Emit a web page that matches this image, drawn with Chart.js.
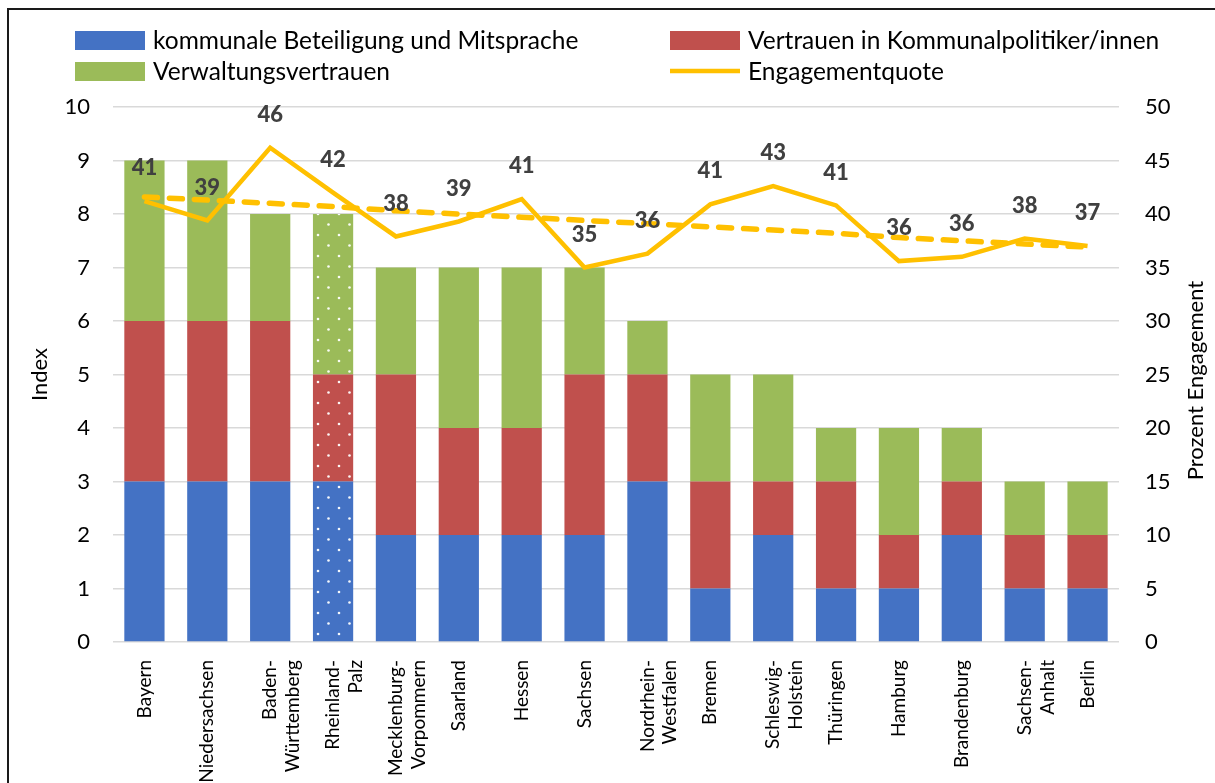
<!DOCTYPE html>
<html lang="de">
<head>
<meta charset="utf-8">
<title>Index und Engagementquote nach Bundesland</title>
<script src="https://cdn.jsdelivr.net/npm/chart.js@4/dist/chart.umd.min.js"></script>
<style>
  html, body { margin: 0; padding: 0; background: #fff; }
  #wrap { position: relative; width: 1215px; height: 783px; overflow: hidden; }
  #frame { position: absolute; left: 7px; top: 8px; width: 1400px; height: 1000px;
           border: 2px solid #1a1a1a; box-sizing: border-box; }
  #c { position: absolute; left: 0; top: 0; }
</style>
</head>
<body>
<div id="wrap">
  <div id="frame"></div>
  <canvas id="c" width="1215" height="783"></canvas>
</div>
<script>
// Bundesländer (mehrzeilige Beschriftung als Arrays)
const laender = [
  ['Bayern'], ['Niedersachsen'], ['Baden-', 'Württemberg'], ['Rheinland-', 'Palz'],
  ['Mecklenburg-', 'Vorpommern'], ['Saarland'], ['Hessen'], ['Sachsen'],
  ['Nordrhein-', 'Westfalen'], ['Bremen'], ['Schleswig-', 'Holstein'], ['Thüringen'],
  ['Hamburg'], ['Brandenburg'], ['Sachsen-', 'Anhalt'], ['Berlin']
];

// Index-Bestandteile (linke Achse)
const beteiligung      = [3, 3, 3, 3, 2, 2, 2, 2, 3, 1, 2, 1, 1, 2, 1, 1];
const vertrauenPolitik = [3, 3, 3, 2, 3, 2, 2, 3, 2, 2, 1, 2, 1, 1, 1, 1];
const verwaltung       = [3, 3, 2, 3, 2, 3, 3, 2, 1, 2, 2, 1, 2, 1, 1, 1];

// Engagementquote in Prozent (rechte Achse) und ihre lineare Trendlinie
const engagementquote = [41.2, 39.4, 46.2, 42.0, 37.9, 39.3, 41.4, 35.0, 36.3, 40.9, 42.6, 40.8, 35.6, 36.0, 37.7, 37.0];
const trendEngagement = [41.6, 41.3, 41.0, 40.7, 40.3, 40.0, 39.7, 39.4, 39.1, 38.8, 38.5, 38.2, 37.8, 37.5, 37.2, 36.9];

// Achsenbereiche
const indexAchse   = { min: 0, max: 10, step: 1 };
const prozentAchse = { min: 0, max: 50, step: 5 };

// Land mit gepunkteten Balken
const gepunktet = 'Rheinland-Palz';

const FONT = 'Lato, Carlito, Calibri, "Open Sans", sans-serif';
const BLAU = '#4472C4', ROT = '#C0504D', GRUEN = '#9BBB59', GELB = '#FFC000';

const ctx = document.getElementById('c').getContext('2d');

function punktMuster(farbe) {
  const t = document.createElement('canvas');
  t.width = 21; t.height = 21;
  const g = t.getContext('2d');
  g.fillStyle = farbe;
  g.fillRect(0, 0, 21, 21);
  g.fillStyle = 'rgba(255,255,255,0.95)';
  g.beginPath(); g.arc(3, 4, 1.3, 0, Math.PI * 2); g.fill();
  g.beginPath(); g.arc(13.5, 14.5, 1.3, 0, Math.PI * 2); g.fill();
  return ctx.createPattern(t, 'repeat');
}

function balkenFarbe(farbe) {
  const muster = punktMuster(farbe);
  return (c) => (laender[c.dataIndex] && laender[c.dataIndex].join('') === gepunktet) ? muster : farbe;
}

// Legende in zwei Spalten
const legendePlugin = {
  id: 'legendeZweispaltig',
  afterDraw(chart) {
    const g = chart.ctx;
    const spalten = [75, 670], zeilen = [40, 71];
    chart.data.datasets.forEach((ds, i) => {
      if (ds.inLegende === false) return;
      const x = spalten[i % 2], y = zeilen[Math.floor(i / 2)];
      g.save();
      if (ds.type === 'line') {
        g.strokeStyle = ds.borderColor;
        g.lineWidth = 4.5;
        g.beginPath(); g.moveTo(x, y); g.lineTo(x + 70, y); g.stroke();
      } else {
        g.fillStyle = ds.legendeFarbe;
        g.fillRect(x, y - 9, 70, 19);
      }
      g.fillStyle = '#000';
      g.font = '24.5px ' + FONT;
      g.textBaseline = 'middle';
      g.fillText(ds.label, x + 78, y + 1);
      g.restore();
    });
  }
};

// Wertebeschriftung über der Engagementquote
const wertePlugin = {
  id: 'werteBeschriftung',
  afterDatasetsDraw(chart) {
    const idx = chart.data.datasets.findIndex(d => d.werteZeigen);
    const meta = chart.getDatasetMeta(idx);
    const g = chart.ctx;
    g.save();
    g.font = '900 22px ' + FONT;
    g.fillStyle = '#404040';
    g.textAlign = 'center';
    g.textBaseline = 'middle';
    meta.data.forEach((p, i) => {
      g.fillText(String(Math.round(chart.data.datasets[idx].data[i])), p.x, p.y - 33);
    });
    g.restore();
  }
};

// Titel der rechten Achse, von unten nach oben gelesen
const rechterTitelPlugin = {
  id: 'rechterAchsentitel',
  afterDraw(chart) {
    const g = chart.ctx, a = chart.chartArea;
    g.save();
    g.translate(1196, (a.top + a.bottom) / 2 + 6);
    g.rotate(-Math.PI / 2);
    g.font = '22px ' + FONT;
    g.fillStyle = '#000';
    g.textAlign = 'center';
    g.textBaseline = 'middle';
    g.fillText('Prozent Engagement', 0, 0);
    g.restore();
  }
};

new Chart(ctx, {
  type: 'bar',
  data: {
    labels: laender,
    datasets: [
      { label: 'kommunale Beteiligung und Mitsprache', data: beteiligung, backgroundColor: balkenFarbe(BLAU),
        legendeFarbe: BLAU, stack: 'index', order: 3, yAxisID: 'y' },
      { label: 'Vertrauen in Kommunalpolitiker/innen', data: vertrauenPolitik, backgroundColor: balkenFarbe(ROT),
        legendeFarbe: ROT, stack: 'index', order: 3, yAxisID: 'y' },
      { label: 'Verwaltungsvertrauen', data: verwaltung, backgroundColor: balkenFarbe(GRUEN),
        legendeFarbe: GRUEN, stack: 'index', order: 3, yAxisID: 'y' },
      { type: 'line', label: 'Engagementquote', data: engagementquote, borderColor: GELB, borderWidth: 4.5,
        pointRadius: 0, tension: 0, yAxisID: 'y1', order: 1, werteZeigen: true, borderJoinStyle: 'miter' },
      { type: 'line', label: 'Trend Engagementquote', data: trendEngagement, borderColor: GELB, borderWidth: 5.5,
        borderDash: [13, 12], borderCapStyle: 'round', pointRadius: 0, tension: 0, yAxisID: 'y1', order: 2,
        inLegende: false }
    ]
  },
  options: {
    responsive: false,
    animation: false,
    events: [],
    layout: { padding: { top: 107, left: 0, right: 0, bottom: 0 } },
    datasets: { bar: { barPercentage: 0.64, categoryPercentage: 1 } },
    plugins: { legend: { display: false }, tooltip: { enabled: false } },
    scales: {
      x: {
        stacked: true,
        grid: { display: false },
        border: { display: false },
        ticks: { color: '#000', font: { family: FONT, size: 19 }, minRotation: 90, maxRotation: 90,
                 autoSkip: false, padding: 10 },
        afterFit(s) { s.height = 141; }
      },
      y: {
        position: 'left',
        stacked: true,
        min: indexAchse.min, max: indexAchse.max,
        grid: { color: '#D9D9D9', lineWidth: 1.5, drawTicks: false },
        border: { display: false },
        ticks: { stepSize: indexAchse.step, color: '#000', font: { family: FONT, size: 22 }, padding: 23 },
        title: { display: true, text: 'Index', color: '#000', font: { family: FONT, size: 22 },
                 padding: { top: 27, bottom: 0 } },
        afterFit(s) { s.width = 113; }
      },
      y1: {
        position: 'right',
        min: prozentAchse.min, max: prozentAchse.max,
        grid: { display: false, drawTicks: false },
        border: { display: false },
        ticks: { stepSize: prozentAchse.step, color: '#000', font: { family: FONT, size: 22 }, padding: 26 },
        afterFit(s) { s.width = 96; }
      }
    }
  },
  plugins: [legendePlugin, wertePlugin, rechterTitelPlugin]
});
</script>
</body>
</html>
